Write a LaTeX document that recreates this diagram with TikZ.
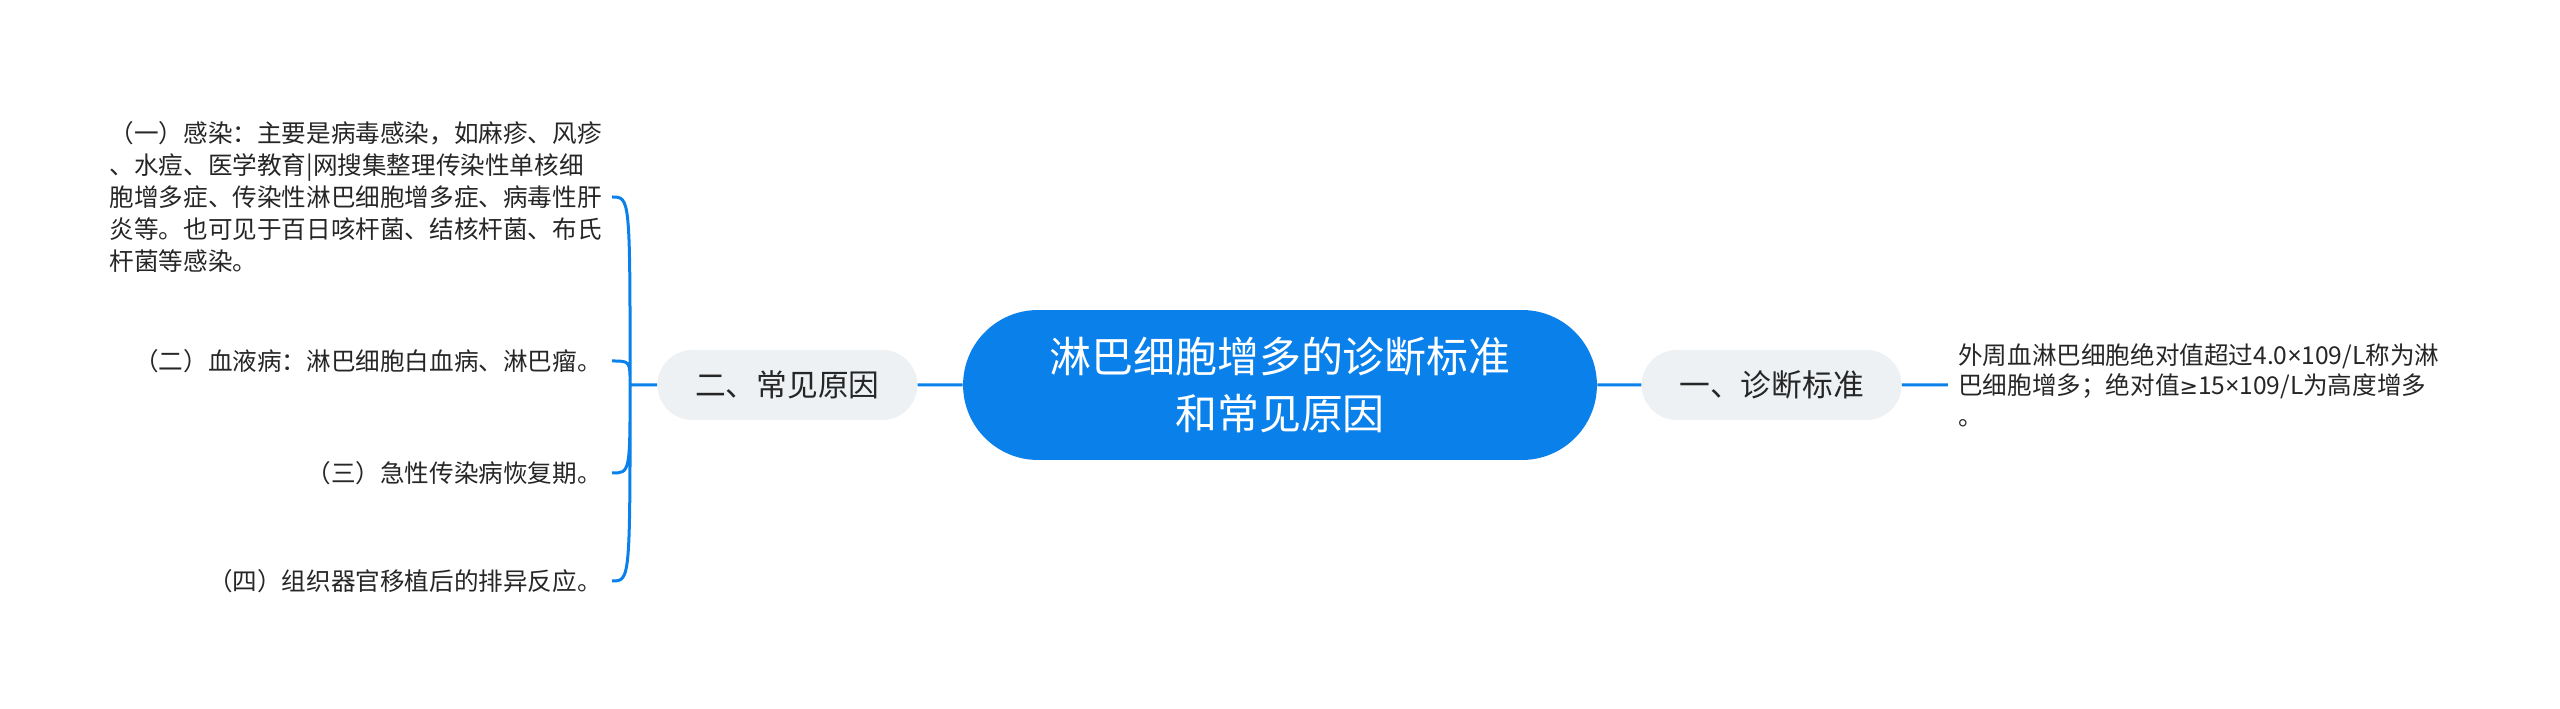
\documentclass[tikz,border=0pt]{standalone}
\usepackage{fontspec}
\setmainfont{Noto Sans CJK SC}
\newfontfamily\latinsym{Noto Sans}
\newfontfamily\mathsym{DejaVu Sans}
\usetikzlibrary{positioning}
\definecolor{mapblue}{HTML}{0A80EB}
\definecolor{topicgray}{HTML}{EEF1F4}
\definecolor{leaftext}{HTML}{262626}
\newcommand{\tm}{{\latinsym ×}}
\newcommand{\gq}{{\mathsym\fontsize{12.5}{17.3}\selectfont ≥}}
\tikzset{x=0.02cm, y=0.02cm,
root/.style={fill=mapblue, text=white, rounded corners=1.5cm,
  minimum width=12.68cm, minimum height=3cm, align=center,
  font=\fontsize{23.9}{32.4}\selectfont},
topic/.style={fill=topicgray, text=leaftext, rounded corners=0.7cm,
  minimum width=5.2cm, minimum height=1.4cm,
  font=\fontsize{17.5}{21}\selectfont},
leaf/.style={text=leaftext, inner sep=0.2cm,
  font=\fontsize{14}{18.2}\selectfont},
link/.style={draw=mapblue, line width=0.06cm}
}

\begin{document}
\begin{tikzpicture}
\useasboundingbox (0,0) rectangle (2560,709);
% centre and the two topics
\node[root] (root) at (1280,324) {淋巴细胞增多的诊断标准\\和常见原因};
\node[topic, left=0.9cm of root] (cause) {二、常见原因};
\node[topic, right=0.88cm of root] (diag) {一、诊断标准};
\node[leaf, align=left, right=0.92cm of diag,
  font=\fontsize{14}{17.3}\selectfont] (diagtext)
  {外周血淋巴细胞绝对值超过4.0\tm109/L称为淋\\巴细胞增多；绝对值\gq15\tm109/L为高度增多\\。};
\coordinate[left=0.54cm of cause] (fork);
% the four causes
\node[leaf, anchor=east, align=left] (infect) at (612,512)
  {（一）感染：主要是病毒感染，如麻疹、风疹\\、水痘、医学教育|网搜集整理传染性单核细\\胞增多症、传染性淋巴细胞增多症、病毒性肝\\炎等。也可见于百日咳杆菌、结核杆菌、布氏\\杆菌等感染。};
\node[leaf, anchor=east] (blood) at (612,348) {（二）血液病：淋巴细胞白血病、淋巴瘤。};
\node[leaf, anchor=east] (acute) at (612,236) {（三）急性传染病恢复期。};
\node[leaf, anchor=east] (graft) at (612,128) {（四）组织器官移植后的排异反应。};
\draw[link]
(root) -- (cause)
(root) -- (diag)
(diag) -- (diagtext)
(cause) -- (fork)
(fork) .. controls (fork |- infect.east) .. (infect.east)
(fork) .. controls (fork |- blood.east) .. (blood.east)
(fork) .. controls (fork |- acute.east) .. (acute.east)
(fork) .. controls (fork |- graft.east) .. (graft.east)
;
\end{tikzpicture}
\end{document}
